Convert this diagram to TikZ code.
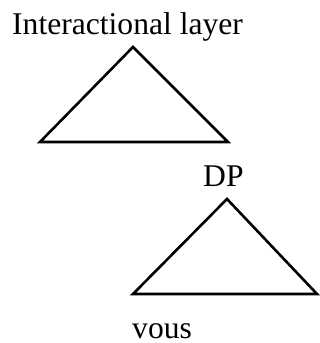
\documentclass[tikz,border=0pt]{standalone}
\usepackage{fontspec}
\setmainfont{Liberation Serif}
\usepackage{tikz}

\tikzset{
  lbl/.style={anchor=base west, inner sep=0pt, font=\fontsize{31.6}{38}\selectfont},
  tri/.style={line width=2.6pt, line join=miter}
}

\begin{document}
\begin{tikzpicture}[x=1pt, y=1pt]
\useasboundingbox (0,0) rectangle (320,343);
% upper layer
\node[lbl] (layer) at (12,308) {Interactional layer};
\coordinate (topA) at (133,296);
\coordinate (topL) at (40,201);
\coordinate (topR) at (228,201);
\draw[tri] (topA) -- (topL) -- (topR) -- cycle;
% DP
\node[lbl] (dp) at (203,156) {DP};
\coordinate (dpA) at (227,144);
\coordinate (dpL) at (133,49);
\coordinate (dpR) at (317,49);
\draw[tri] (dpA) -- (dpL) -- (dpR) -- cycle;
\node[lbl] (vous) at (132,5) {vous};
\end{tikzpicture}
\end{document}
